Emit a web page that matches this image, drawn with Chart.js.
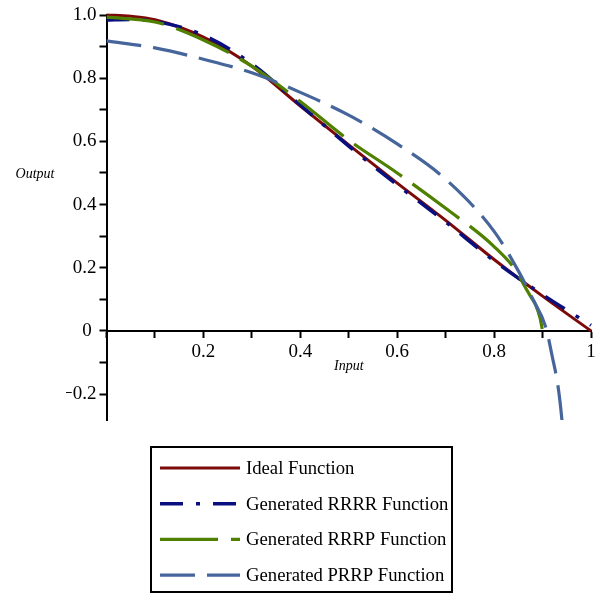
<!DOCTYPE html>
<html>
<head>
<meta charset="utf-8">
<script src="https://cdn.jsdelivr.net/npm/chart.js@4.4.1/dist/chart.umd.min.js"></script>
<style>
  html, body { margin: 0; padding: 0; background: #fff; }
  canvas { display: block; }
</style>
</head>
<body>
<canvas id="plot" width="595" height="596"></canvas>
<script>
// values
const inputs = [0, 0.05, 0.1, 0.2, 0.3, 0.4, 0.5, 0.6, 0.7, 0.8, 0.9, 1.0];
const idealOut = [1.0, 0.996, 0.985, 0.93, 0.838, 0.712, 0.589, 0.468, 0.35, 0.226, 0.11, 0];
const rrrrOut = [0.984, 0.986, 0.98, 0.936, 0.845, 0.715, 0.585, 0.462, 0.345, 0.222, 0.115, 0.018];

const rrrpIn = [0, 0.1, 0.2, 0.3, 0.4, 0.5, 0.6, 0.7, 0.8, 0.85, 0.86, 0.875, 0.885, 0.895, 0.9];
const rrrpOut = [0.993, 0.978, 0.921, 0.838, 0.726, 0.604, 0.5, 0.388, 0.267, 0.18, 0.15, 0.11, 0.085, 0.04, 0];

const prrpIn = [0, 0.1, 0.2, 0.3, 0.4, 0.5, 0.6, 0.7, 0.8, 0.85, 0.88, 0.907, 0.92, 0.932, 0.94, 0.946];
const prrpOut = [0.918, 0.896, 0.86, 0.817, 0.755, 0.683, 0.592, 0.48, 0.315, 0.19, 0.1, 0.01, -0.081, -0.176, -0.282, -0.4];

const seriesNames = ['Ideal Function', 'Generated RRRR Function', 'Generated RRRP Function', 'Generated PRRP Function'];
const xTitle = 'Input';
const yTitle = 'Output';

const pts = (xs, ys) => xs.map((x, i) => ({x: x, y: ys[i]}));

const serif = '"Liberation Serif", "Times New Roman", serif';

// axis titles and boxed legend, drawn after the chart
const extras = {
    id: 'extras',
    afterDraw(chart) {
        const ctx = chart.ctx;
        const sx = chart.scales.x, sy = chart.scales.y;
        ctx.save();
        ctx.fillStyle = '#000';
        ctx.font = 'italic 14px ' + serif;
        ctx.textAlign = 'center';
        ctx.textBaseline = 'middle';
        ctx.fillText(xTitle, sx.getPixelForValue(0.5), sy.getPixelForValue(0) + 35);
        ctx.fillText(yTitle, 35, 174);

        ctx.lineWidth = 2;
        ctx.strokeStyle = '#000';
        ctx.setLineDash([]);
        ctx.strokeRect(151, 447, 301, 145);

        ctx.font = '18.7px ' + serif;
        ctx.textAlign = 'left';
        chart.data.datasets.forEach((ds, i) => {
            const ly = 468 + i * 35.7;
            ctx.strokeStyle = ds.borderColor;
            ctx.lineWidth = ds.borderWidth;
            ctx.lineCap = 'butt';
            ctx.setLineDash(ds.borderDash || []);
            ctx.beginPath();
            ctx.moveTo(160, ly);
            ctx.lineTo(240, ly);
            ctx.stroke();
            ctx.setLineDash([]);
            ctx.fillStyle = '#000';
            ctx.fillText(ds.label, 246, ly + 1);
        });
        ctx.restore();
    }
};

new Chart(document.getElementById('plot'), {
    type: 'line',
    data: {
        datasets: [{
            label: seriesNames[0],
            data: pts(inputs, idealOut),
            borderColor: '#7d0a0a',
            borderWidth: 3,
            order: 4
        }, {
            label: seriesNames[1],
            data: pts(inputs, rrrrOut),
            borderColor: '#0a0f80',
            borderWidth: 3.5,
            borderDash: [23, 13, 4, 13],
            order: 3
        }, {
            label: seriesNames[2],
            data: pts(rrrpIn, rrrpOut),
            borderColor: '#4f8000',
            borderWidth: 3.2,
            borderDash: [58, 13],
            order: 2
        }, {
            label: seriesNames[3],
            data: pts(prrpIn, prrpOut),
            borderColor: '#46659b',
            borderWidth: 3.2,
            borderDash: [35, 12],
            order: 1
        }]
    },
    options: {
        responsive: false,
        animation: false,
        events: [],
        layout: { padding: { left: 66, right: 4, top: 15, bottom: 176 } },
        elements: {
            point: { radius: 0 },
            line: { cubicInterpolationMode: 'monotone', fill: false, borderCapStyle: 'butt' }
        },
        datasets: { line: { clip: { left: 0, top: 3, right: 3, bottom: 0 } } },
        plugins: { legend: { display: false }, tooltip: { enabled: false } },
        scales: {
            x: {
                type: 'linear',
                min: 0,
                max: 1,
                position: { y: 0 },
                afterFit: s => { s.paddingRight = 0; s.paddingLeft = 0; },
                border: { display: true, color: '#000', width: 2 },
                grid: { drawOnChartArea: false, drawTicks: true, color: '#000', tickLength: 6, tickWidth: 2 },
                ticks: {
                    stepSize: 0.1,
                    autoSkip: false,
                    maxRotation: 0,
                    includeBounds: false,
                    padding: 4,
                    color: '#000',
                    font: { family: serif, size: 19 },
                    callback: v => {
                        const k = Math.round(v * 10);
                        if (k % 2 || k === 0) return '';
                        return k === 10 ? '1' : (k / 10).toFixed(1);
                    }
                }
            },
            y: {
                type: 'linear',
                min: -0.282,
                max: 1.0,
                position: 'left',
                afterFit: s => { s.width = 40.5; s.paddingTop = 0; s.paddingBottom = 0; },
                border: { display: true, color: '#000', width: 2 },
                grid: { drawOnChartArea: false, drawTicks: true, color: '#000', tickLength: 7, tickWidth: 2 },
                ticks: {
                    stepSize: 0.1,
                    autoSkip: false,
                    includeBounds: false,
                    padding: 3,
                    color: '#000',
                    font: { family: serif, size: 19 },
                    callback: v => {
                        const k = Math.round(v * 10);
                        if (k % 2) return '';
                        if (k === 0) return '0 ';
                        const s = (Math.abs(k) / 10).toFixed(1);
                        return k < 0 ? '\u2212' + s : s;
                    }
                }
            }
        }
    },
    plugins: [extras]
});
</script>
</body>
</html>
